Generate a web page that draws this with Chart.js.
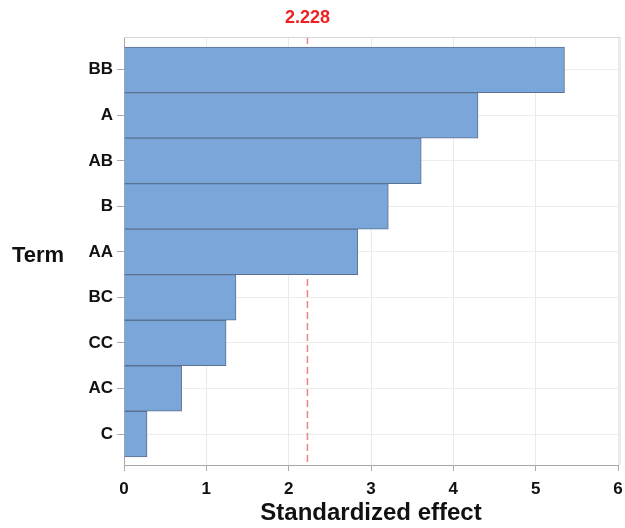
<!DOCTYPE html>
<html>
<head>
<meta charset="utf-8">
<script src="https://cdn.jsdelivr.net/npm/chart.js@4/dist/chart.umd.min.js"></script>
<style>
  html, body { margin: 0; padding: 0; background: #fff; }
  #wrap { width: 625px; height: 528px; }
</style>
</head>
<body>
<div id="wrap"><canvas id="myChart"></canvas></div>
<script>
var terms = ['BB', 'A', 'AB', 'B', 'AA', 'BC', 'CC', 'AC', 'C'];
var effects = [5.35, 4.30, 3.61, 3.21, 2.84, 1.36, 1.24, 0.70, 0.28];
var xTicks = [0, 1, 2, 3, 4, 5, 6];
var critical = 2.228;

var fontFam = '"Liberation Sans", Arial, sans-serif';

// reference line drawn under the bars, label above the plot
var refLine = {
	id: 'refLine',
	beforeDatasetsDraw: function(chart) {
		var ctx = chart.ctx, area = chart.chartArea;
		var x = chart.scales.x.getPixelForValue(critical);
		ctx.save();
		ctx.strokeStyle = '#e98585';
		ctx.lineWidth = 1.5;
		ctx.setLineDash([7, 4]);
		ctx.beginPath();
		ctx.moveTo(x, area.top);
		ctx.lineTo(x, area.bottom);
		ctx.stroke();
		ctx.restore();
	},
	afterDraw: function(chart) {
		var ctx = chart.ctx, area = chart.chartArea;
		var x = chart.scales.x.getPixelForValue(critical);
		ctx.save();
		// plot frame
		ctx.strokeStyle = '#d6d6d6';
		ctx.lineWidth = 1;
		ctx.beginPath();
		ctx.moveTo(area.left, area.top + 0.5);
		ctx.lineTo(area.right + 2, area.top + 0.5);
		ctx.lineTo(area.right + 2, area.bottom);
		ctx.stroke();
		ctx.fillStyle = '#ee2222';
		ctx.font = 'bold 18px ' + fontFam;
		ctx.textAlign = 'center';
		ctx.textBaseline = 'middle';
		ctx.fillText(critical.toFixed(3), x, 18);
		ctx.fillStyle = '#111';
		ctx.font = 'bold 22px ' + fontFam;
		ctx.fillText('Term', 38, 256);
		ctx.restore();
	}
};

var data = effects.map(function(v, i) { return { x: v, y: i }; });

var ctx = document.getElementById('myChart').getContext('2d');
var myChart = new Chart(ctx, {
	type: 'bar',
	data: {
		datasets: [{
			label: 'Effect',
			data: data,
			backgroundColor: '#7ba6d9',
			borderColor: '#5b7191',
			borderWidth: 1,
			barPercentage: 1,
			categoryPercentage: 1
		}]
	},
	options: {
		indexAxis: 'y',
		responsive: true,
		maintainAspectRatio: false,
		animation: false,
		layout: { padding: { top: 37, right: 7, left: 0, bottom: 0 } },
		plugins: { legend: { display: false }, tooltip: { enabled: false } },
		scales: {
			x: {
				type: 'linear',
				min: 0,
				max: 6,
				afterBuildTicks: function(axis) {
					axis.ticks = xTicks.map(function(v) { return { value: v }; });
				},
				afterFit: function(axis) {
					axis.height = 63;
					axis.paddingLeft = 0;
					axis.paddingRight = 0;
				},
				grid: { color: '#eaeaea', tickLength: 6, tickColor: '#aaaaaa' },
				border: { color: '#a8a8a8' },
				ticks: {
					color: '#111',
					padding: 8,
					font: { family: fontFam, size: 17, weight: 'bold' }
				},
				title: {
					display: true,
					text: 'Standardized effect',
					color: '#111',
					padding: { top: 0, bottom: 0 },
					font: { family: fontFam, size: 24, weight: 'bold' }
				}
			},
			y: {
				type: 'linear',
				reverse: true,
				offset: false,
				min: -0.72,
				max: 8.68,
				afterBuildTicks: function(axis) {
					axis.ticks = terms.map(function(t, i) { return { value: i }; });
				},
				afterFit: function(axis) {
					axis.width = 124;
					axis.paddingTop = 0;
					axis.paddingBottom = 0;
				},
				grid: { offset: false, color: '#ececec', tickLength: 7, tickColor: '#aaaaaa' },
				border: { color: '#a8a8a8' },
				ticks: {
					color: '#111',
					padding: 4,
					font: { family: fontFam, size: 17, weight: 'bold' },
					callback: function(v) { return terms[v]; }
				}
			}
		}
	},
	plugins: [refLine]
});
</script>
</body>
</html>
